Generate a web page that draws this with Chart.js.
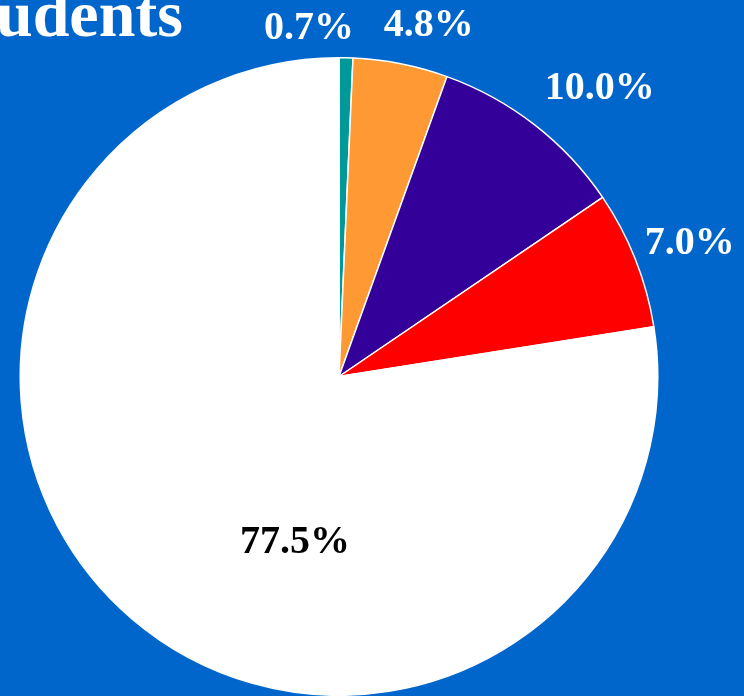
<!DOCTYPE html>
<html>
<head>
<meta charset="utf-8">
<script src="https://cdn.jsdelivr.net/npm/chart.js@4/dist/chart.umd.min.js"></script>
<style>
  html, body { margin: 0; padding: 0; background: #0066CC; }
  #wrap { width: 744px; height: 696px; position: relative; }
</style>
</head>
<body>
<div id="wrap"><canvas id="pieChart"></canvas></div>
<script>
const categories = ['Group A', 'Group B', 'Group C', 'Group D', 'Group E'];
const shares = [0.7, 4.8, 10.0, 7.0, 77.5];
const sliceColors = ['#009999', '#FF9933', '#330099', '#FF0000', '#FFFFFF'];
const titleText = 'Students';

// label placement: distance from centre (in radii) and angle nudge (degrees)
const labelDist = [1.095, 1.136, 1.218, 1.177, 0.54];
const labelTurn = [-6.2, 3.2, 4.4, 0.8, -25.7];
const labelColors = ['#FFFFFF', '#FFFFFF', '#FFFFFF', '#FFFFFF', '#000000'];

const labelsPlugin = {
  id: 'pctLabels',
  afterDatasetsDraw(chart) {
    const ctx = chart.ctx;
    const meta = chart.getDatasetMeta(0);
    ctx.save();
    ctx.font = 'bold 40px "Liberation Serif", "Times New Roman", serif';
    ctx.textAlign = 'center';
    ctx.textBaseline = 'middle';
    meta.data.forEach((arc, i) => {
      const mid = (arc.startAngle + arc.endAngle) / 2 + labelTurn[i] * Math.PI / 180;
      const r = arc.outerRadius * labelDist[i];
      const x = arc.x + Math.cos(mid) * r;
      const y = arc.y + Math.sin(mid) * r;
      ctx.fillStyle = labelColors[i];
      ctx.fillText(shares[i].toFixed(1) + '%', x, y);
    });
    // title, partly off the left and top edges
    ctx.font = 'bold 66px "Liberation Serif", "Times New Roman", serif';
    ctx.fillStyle = '#FFFFFF';
    ctx.textAlign = 'right';
    ctx.textBaseline = 'alphabetic';
    ctx.fillText(titleText, 183, 36);
    ctx.restore();
  }
};

document.addEventListener('DOMContentLoaded', () => {
  const ctx = document.getElementById('pieChart');
  new Chart(ctx, {
    type: 'pie',
    data: {
      labels: categories,
      datasets: [{
        data: shares,
        backgroundColor: sliceColors,
        borderColor: '#FFFFFF',
        borderWidth: 1.5,
        hoverOffset: 0
      }]
    },
    options: {
      responsive: true,
      maintainAspectRatio: false,
      animation: false,
      layout: { padding: { top: 57, bottom: 0, left: 19, right: 85 } },
      plugins: {
        legend: { display: false },
        tooltip: { enabled: false }
      }
    },
    plugins: [labelsPlugin]
  });
});
</script>
</body>
</html>
